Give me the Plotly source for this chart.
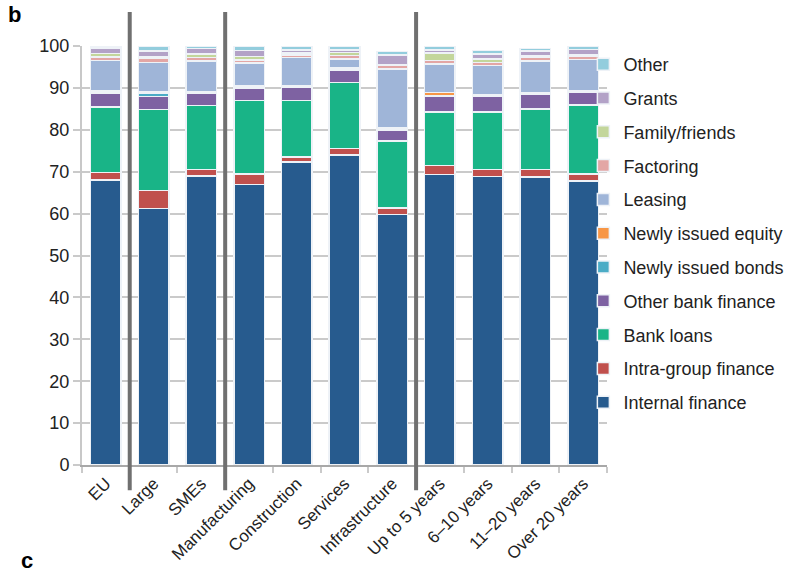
import plotly.graph_objects as go

categories = ["EU", "Large", "SMEs", "Manufacturing", "Construction", "Services",
              "Infrastructure", "Up to 5 years", "6–10 years", "11–20 years", "Over 20 years"]
internal_finance   = [68.0, 61.2, 69.0, 67.0, 72.3, 74.0, 59.8, 69.3, 68.8, 68.7, 67.8]
intra_group        = [1.8, 4.3, 1.5, 2.5, 1.2, 1.5, 1.5, 2.2, 1.7, 1.8, 1.6]
bank_loans         = [15.7, 19.3, 15.3, 17.5, 13.5, 15.8, 16.0, 12.8, 13.8, 14.5, 16.5]
other_bank         = [3.3, 3.2, 2.9, 3.0, 3.2, 3.0, 2.6, 3.6, 3.6, 3.5, 3.0]
newly_bonds        = [0.3, 0.8, 0.2, 0.2, 0.2, 0.3, 0.3, 0.3, 0.2, 0.2, 0.2]
newly_equity       = [0.2, 0.3, 0.2, 0.2, 0.2, 0.3, 0.3, 0.7, 0.2, 0.2, 0.2]
leasing            = [7.3, 7.0, 7.3, 5.5, 6.6, 2.0, 14.0, 6.8, 7.0, 7.5, 7.5]
factoring          = [0.8, 0.9, 0.8, 0.8, 0.6, 0.8, 0.8, 0.8, 0.8, 0.8, 0.8]
family_friends     = [0.8, 0.4, 0.9, 0.8, 0.5, 0.8, 0.3, 1.8, 0.8, 0.4, 0.4]
grants             = [1.3, 1.4, 1.3, 1.4, 0.8, 0.6, 2.3, 0.8, 1.2, 1.2, 1.2]
other              = [0.5, 1.2, 0.6, 1.1, 0.9, 0.9, 0.8, 0.8, 0.8, 0.6, 0.7]

series = [
    ("Internal finance", internal_finance, "#275B8E"),
    ("Intra-group finance", intra_group, "#C0504D"),
    ("Bank loans", bank_loans, "#19B487"),
    ("Other bank finance", other_bank, "#7E62A2"),
    ("Newly issued bonds", newly_bonds, "#4BACC6"),
    ("Newly issued equity", newly_equity, "#F79646"),
    ("Leasing", leasing, "#9FB5D8"),
    ("Factoring", factoring, "#E3A6A5"),
    ("Family/friends", family_friends, "#C3D69B"),
    ("Grants", grants, "#B3A2C7"),
    ("Other", other, "#93CDDD"),
]

separators_after = ["EU", "SMEs", "Infrastructure"]

FONT = "Liberation Sans, Arial, sans-serif"

fig = go.Figure()
n = len(series)
for i, (name, vals, col) in enumerate(series):
    fig.add_trace(go.Bar(
        x=categories, y=vals, name=name, marker_color=col,
        marker_line=dict(color="#EEF2F7", width=1.5),
        legendgroup=name, legendrank=1000 - i,
    ))

for cat in separators_after:
    idx = categories.index(cat)
    fig.add_shape(type="line", xref="x", yref="paper",
                  x0=idx + 0.5, x1=idx + 0.5, y0=-0.06, y1=1.081,
                  line=dict(color="#707070", width=4), layer="above")

fig.add_annotation(text="<b>b</b>", xref="paper", yref="paper", x=-0.145, y=1.04,
                   xanchor="left", yanchor="bottom", showarrow=False,
                   font=dict(size=22, color="black", family=FONT))
fig.add_annotation(text="<b>c</b>", xref="paper", yref="paper", x=-0.12, y=-0.262,
                   xanchor="left", yanchor="bottom", showarrow=False,
                   font=dict(size=22, color="black", family=FONT))

fig.update_layout(
    barmode="stack", bargap=0.36,
    width=788, height=575,
    margin=dict(l=82, r=181, t=46, b=110, autoexpand=False),
    paper_bgcolor="white", plot_bgcolor="white",
    font=dict(family=FONT, size=17, color="#222222"),
    showlegend=True,
    legend=dict(traceorder="grouped", x=0.955, xanchor="left", y=1.0, yanchor="top",
                font=dict(size=18, color="#222222"), tracegroupgap=7.4,
                bgcolor="rgba(0,0,0,0)", itemwidth=30),
)
fig.update_yaxes(range=[0, 100], dtick=10, showgrid=True, gridcolor="#CACACA", gridwidth=2,
                 showline=True, linecolor="#C8C8C8", linewidth=2,
                 ticks="outside", ticklen=7, tickcolor="#CACACA", tickwidth=2,
                 zeroline=False, tickfont=dict(size=18, color="#222222"))
fig.update_xaxes(showline=True, linecolor="#A8A8A8", linewidth=2,
                 ticks="outside", tickson="boundaries", ticklen=6, tickcolor="#CACACA", tickwidth=2,
                 tickangle=-45, tickfont=dict(size=17, color="#222222"))

fig.write_html("out.html")
